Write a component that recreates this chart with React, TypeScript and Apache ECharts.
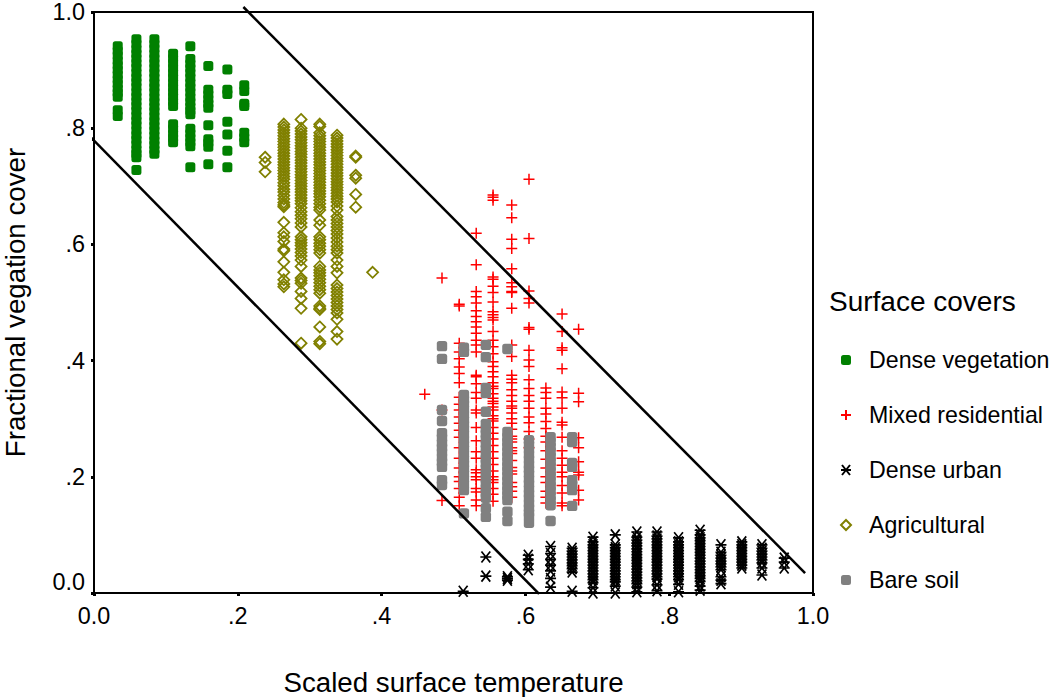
import React, { useEffect, useRef } from "react";
import * as echarts from "echarts";

type Column = [number, number[]];

const seriesNames = ["Dense vegetation", "Mixed residential", "Dense urban", "Agricultural", "Bare soil"];
const tickLabels: Record<string, string> = { "0": "0.0", "0.2": ".2", "0.4": ".4", "0.6": ".6", "0.8": ".8", "1": "1.0" };

const denseVegetation: Column[] = [
  [0.033, [.941,.933,.925,.916,.908,.9,.892,.884,.876,.868,.861,.854,.831,.821]],
  [0.059, [.953,.945,.936,.928,.92,.912,.904,.895,.887,.879,.871,.862,.854,.846,.838,.83,.821,.813,.805,.796,.788,.78,.772,.763,.756,.75,.728]],
  [0.084, [.953,.945,.937,.928,.92,.912,.903,.895,.887,.878,.87,.862,.853,.845,.837,.829,.82,.812,.804,.796,.787,.779,.771,.763,.756]],
  [0.11, [.928,.92,.912,.903,.895,.887,.878,.87,.862,.854,.846,.838,.807,.799,.79,.783,.776]],
  [0.134, [.941,.919,.911,.903,.895,.887,.878,.87,.862,.853,.845,.837,.83,.824,.799,.791,.783,.776,.769,.733]],
  [0.159, [.907,.866,.858,.85,.842,.835,.805,.781,.775,.768,.738]],
  [0.1855, [.901,.866,.859,.811,.789,.761,.733]],
  [0.209, [.874,.864,.842,.838,.792,.784,.776]],
];

const mixedResidential: Column[] = [
  [0.46, [.342]],
  [0.484, [.542,.315,.159]],
  [0.508, [.497,.494,.43,.415,.403,.389,.378,.362,.337,.325,.315,.303,.292,.28,.268,.25,.232,.215,.2,.192,.18,.165,.15]],
  [0.5316, [.619,.565,.519,.51,.499,.486,.476,.467,.458,.447,.435,.427,.415,.375,.372,.36,.345,.335,.315,.31,.285,.262,.243,.232,.212,.207,.2,.195,.18,.174,.16,.15]],
  [0.555, [.685,.681,.676,.544,.54,.528,.517,.501,.484,.479,.474,.47,.45,.435,.424,.412,.398,.39,.381,.372,.362,.356,.352,.343,.335,.33,.326,.32,.315,.305,.3,.296,.285,.275,.265,.254,.243,.232,.221,.21,.2,.195,.19,.18,.17,.158]],
  [0.581, [.668,.646,.609,.593,.558,.534,.527,.519,.517,.49,.427,.407,.375,.368,.362,.35,.34,.33,.322,.318,.31,.3,.292,.282,.27,.265,.26,.25,.245,.24,.228,.216,.21,.205,.19,.183,.175,.165]],
  [0.605, [.712,.61,.52,.507,.499,.457,.454,.418,.401,.39,.367,.352,.34,.33,.318,.303,.293,.278,.265,.25]],
  [0.6285, [.353,.345,.335,.318,.308,.295,.283,.27,.26,.245,.23,.215,.2,.19,.175,.165,.155]],
  [0.651, [.48,.45,.422,.418,.386,.346,.336,.318,.294,.289,.268,.245,.232,.22,.208,.2,.185,.172,.155,.15]],
  [0.674, [.454,.344,.329,.267,.25,.226,.208,.203,.177,.16]],
];

const denseUrban: Column[] = [
  [0.5135, [.003]],
  [0.545, [.062,.029]],
  [0.575, [.028,.025,.022]],
  [0.604, [.065,.058,.05,.04]],
  [0.635, [.08,.068,.058,.048,.038,.025,.01]],
  [0.665, [.077,.072,.067,.062,.057,.052,.047,.042,.036,.003]],
  [0.694, [.096,.088,.083,.078,.073,.068,.063,.058,.053,.048,.043,.038,.033,.028,.023,.018,.009,0]],
  [0.725, [.1,.083,.078,.073,.068,.063,.058,.053,.048,.043,.038,.033,.028,.023,.019,.012,0]],
  [0.755, [.105,.096,.091,.086,.081,.076,.071,.066,.061,.056,.051,.046,.041,.036,.031,.026,.021,.016,.01,.002]],
  [0.783, [.105,.098,.093,.088,.083,.078,.073,.068,.063,.058,.053,.048,.043,.038,.033,.028,.024,.014,.004]],
  [0.813, [.095,.088,.083,.078,.073,.068,.063,.058,.053,.048,.043,.038,.033,.028,.023,.015,.002]],
  [0.843, [.108,.1,.095,.09,.085,.08,.075,.07,.065,.06,.055,.05,.045,.04,.035,.03,.025,.02,.012,.005]],
  [0.872, [.083,.07,.065,.06,.055,.05,.045,.04,.028,.022,.016]],
  [0.901, [.088,.083,.078,.073,.068,.063,.058,.053,.048,.043]],
  [0.929, [.083,.077,.072,.067,.062,.057,.052,.043,.031]],
  [0.96, [.06,.053,.043]],
];

const agricultural: Column[] = [
  [0.238, [.75,.741,.725]],
  [0.264, [.807,.802,.797,.792,.787,.782,.777,.772,.767,.762,.757,.752,.747,.742,.737,.732,.727,.722,.717,.712,.706,.701,.695,.69,.684,.678,.672,.668,.665,.638,.62,.613,.605,.592,.589,.57,.552,.539,.532,.527]],
  [0.288, [.815,.8,.795,.79,.785,.78,.775,.77,.765,.76,.755,.75,.745,.74,.735,.73,.725,.72,.715,.71,.705,.7,.695,.69,.685,.68,.675,.67,.663,.656,.65,.644,.637,.63,.613,.608,.603,.598,.592,.586,.58,.573,.562,.542,.538,.533,.519,.507,.49,.43]],
  [0.314, [.807,.803,.792,.787,.782,.777,.772,.767,.762,.757,.752,.747,.742,.737,.732,.727,.722,.717,.712,.707,.702,.697,.692,.687,.682,.676,.67,.664,.659,.642,.633,.613,.608,.602,.597,.591,.585,.562,.556,.551,.546,.54,.534,.528,.522,.516,.494,.49,.488,.458,.433,.429]],
  [0.338, [.788,.783,.778,.773,.768,.763,.758,.753,.748,.743,.738,.733,.728,.723,.718,.713,.708,.703,.698,.693,.688,.683,.678,.673,.666,.659,.648,.642,.636,.63,.624,.618,.611,.604,.597,.591,.585,.573,.562,.551,.53,.524,.518,.512,.506,.5,.494,.488,.482,.471,.45,.437]],
  [0.364, [.752,.75,.719,.714,.686,.664]],
  [0.3875, [.552]],
];

const bareSoil: Column[] = [
  [0.484, [.425,.403,.315,.296,.275,.267,.258,.25,.242,.233,.225,.217,.194,.186]],
  [0.5145, [.422,.415,.341,.333,.325,.316,.307,.298,.29,.282,.273,.264,.256,.248,.239,.23,.222,.214,.205,.196,.187,.177,.137]],
  [0.545, [.427,.406,.353,.344,.312,.291,.282,.274,.265,.257,.248,.24,.231,.223,.214,.206,.197,.189,.18,.172,.164,.146,.131]],
  [0.575, [.42,.277,.268,.26,.252,.243,.235,.226,.218,.21,.201,.193,.184,.176,.168,.16,.14,.124]],
  [0.605, [.263,.255,.247,.238,.23,.221,.213,.205,.196,.188,.179,.171,.163,.154,.146,.138,.132,.121]],
  [0.635, [.268,.26,.251,.243,.234,.226,.218,.209,.201,.192,.184,.176,.167,.159,.151,.124]],
  [0.665, [.268,.26,.224,.217,.194,.186,.177,.15]],
];

const upperLimit = [[0.2078, 1.0086], [0.989, 0.0344]];
const lowerLimit = [[-0.005, 0.785], [0.619, -0.0017]];

const plusPath = "path://M0 5H10M5 0V10";
const starPath = "path://M1 0L9 10M9 0L1 10M0 5H10";

const toPoints = (columns: Column[]) => columns.flatMap(([x, ys]) => ys.map((y) => [x, y]));

export default function App() {
  const ref = useRef<HTMLDivElement>(null);
  useEffect(() => {
    const chart = echarts.init(ref.current!, undefined, { renderer: "svg" });
    const font = "Liberation Sans";
    const scatter = (name: string, data: Column[], symbol: string, size: number, itemStyle: any) => ({
      name, type: "scatter", data: toPoints(data), symbol, symbolSize: size, itemStyle: { opacity: 1, ...itemStyle }, clip: false, silent: true,
    });
    const limit = (data: number[][]) => ({
      type: "line", data, showSymbol: false, symbol: "none", clip: false, silent: true, z: 5,
      lineStyle: { color: "#000", width: 2.5 },
    });
    chart.setOption({
      animation: false,
      backgroundColor: "#fff",
      grid: { left: 94, top: 12, width: 719, height: 581, show: true, borderColor: "#000", borderWidth: 2, backgroundColor: "#fff", outerBoundsMode: "none" },
      title: {
        text: "Surface covers", left: 829, top: 287, padding: 0,
        textStyle: { fontFamily: font, fontSize: 28, fontWeight: "normal", color: "#000" },
      },
      legend: {
        orient: "vertical", left: 840, top: 347, padding: 0, itemWidth: 10, itemHeight: 10, itemGap: 29,
        textStyle: { fontFamily: font, fontSize: 23.2, color: "#000", padding: [0, 0, 0, 13], lineHeight: 26 },
        data: [
          { name: seriesNames[0], icon: "roundRect" },
          { name: seriesNames[1], icon: plusPath },
          { name: seriesNames[2], icon: starPath },
          { name: seriesNames[3], icon: "diamond" },
          { name: seriesNames[4], icon: "roundRect" },
        ],
      },
      xAxis: {
        type: "value", min: 0, max: 1, interval: 0.2, splitLine: { show: false },
        axisLine: { show: true, lineStyle: { color: "#000", width: 2 } },
        axisTick: { show: true, length: 3, lineStyle: { color: "#000", width: 3 } },
        axisLabel: {
          fontFamily: font, fontSize: 23.4, color: "#000", margin: 11,
          formatter: (v: number) => tickLabels[String(v)] ?? String(v),
        },
        name: "Scaled surface temperature", nameLocation: "middle", nameGap: 75,
        nameTextStyle: { fontFamily: font, fontSize: 27.7, color: "#000" },
      },
      yAxis: {
        type: "value", min: 0, max: 1, interval: 0.2, splitLine: { show: false },
        axisLine: { show: true, lineStyle: { color: "#000", width: 2 } },
        axisTick: { show: true, length: 3, lineStyle: { color: "#000", width: 3 } },
        axisLabel: {
          fontFamily: font, fontSize: 23.4, color: "#000", margin: 9, verticalAlignMinLabel: "bottom",
          formatter: (v: number) => tickLabels[String(v)] ?? String(v),
        },
        name: "Fractional vegation cover", nameLocation: "middle", nameGap: 66,
        nameTextStyle: { fontFamily: font, fontSize: 27.7, color: "#000", lineHeight: 25 },
      },
      series: [
        scatter(seriesNames[0], denseVegetation, "roundRect", 10, { color: "#008000" }),
        scatter(seriesNames[1], mixedResidential, plusPath, 11, { color: "transparent", borderColor: "#ff0000", borderWidth: 1.5 }),
        scatter(seriesNames[2], denseUrban, starPath, 11, { color: "transparent", borderColor: "#000", borderWidth: 1.7 }),
        scatter(seriesNames[3], agricultural, "diamond", 11, { color: "transparent", borderColor: "#808000", borderWidth: 1.8 }),
        scatter(seriesNames[4], bareSoil, "roundRect", 10.4, { color: "#808080" }),
        limit(upperLimit),
        limit(lowerLimit),
      ],
    });
    return () => chart.dispose();
  }, []);
  return <div ref={ref} style={{ position: "absolute", left: 0, top: 0, width: 1052, height: 697 }} />;
}
